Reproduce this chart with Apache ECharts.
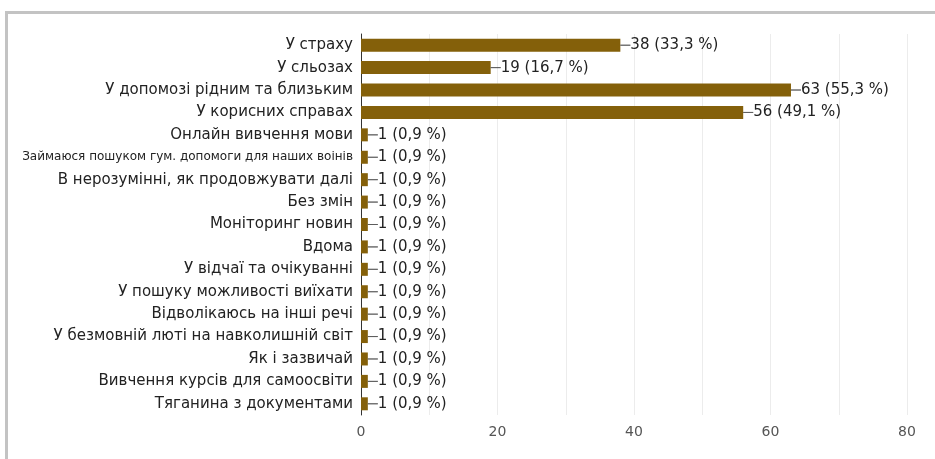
<!DOCTYPE html>
<html>
<head>
<meta charset="utf-8">
<script src="https://cdn.jsdelivr.net/npm/echarts@6/dist/echarts.min.js"></script>
<style>
  html, body { margin: 0; padding: 0; background: #fff; }
  #frame { position: absolute; left: 5px; top: 11px; right: 0; bottom: 0;
           border-left: 3px solid #c3c3c3; border-top: 3px solid #c3c3c3; }
  #chart { position: absolute; left: 0; top: 0; width: 935px; height: 459px; }
</style>
</head>
<body>
<div id="frame"></div>
<div id="chart"></div>
<script>
// Answer options, top to bottom
const categories = [
  'У страху',
  'У сльозах',
  'У допомозі рідним та близьким',
  'У корисних справах',
  'Онлайн вивчення мови',
  'Займаюся пошуком гум. допомоги для наших воінів',
  'В нерозумінні, як продовжувати далі',
  'Без змін',
  'Моніторинг новин',
  'Вдома',
  'У відчаї та очікуванні',
  'У пошуку можливості виїхати',
  'Відволікаюсь на інші речі',
  'У безмовній люті на навколишній світ',
  'Як і зазвичай',
  'Вивчення курсів для самоосвіти',
  'Тяганина з документами'
];
// Number of answers for each option
const counts = [38, 19, 63, 56, 1, 1, 1, 1, 1, 1, 1, 1, 1, 1, 1, 1, 1];
// Total respondents (percent base)
const respondents = 114;
const axisTicks = [0, 20, 40, 60, 80];

const chart = echarts.init(document.getElementById('chart'), null, { renderer: 'canvas' });

const pct = v => (Math.round(v / respondents * 1000) / 10).toFixed(1).replace('.', ',');
const FONT = 'DejaVu Sans, Verdana, sans-serif';

chart.setOption({
  animation: false,
  textStyle: { fontFamily: FONT },
  grid: { left: 361, right: 28, top: 34, bottom: 44, containLabel: false },
  xAxis: {
    type: 'value',
    min: 0, max: 80, interval: 10,
    position: 'bottom',
    axisLine: { show: false },
    axisTick: { show: false },
    splitLine: { show: true, lineStyle: { color: '#ececec', width: 1 } },
    axisLabel: {
      color: '#555', fontSize: 14, margin: 10, fontFamily: FONT,
      formatter: v => (axisTicks.indexOf(v) >= 0 ? String(v) : '')
    }
  },
  yAxis: {
    type: 'category',
    inverse: true,
    data: categories,
    axisLine: { show: true, lineStyle: { color: '#333', width: 1 } },
    axisTick: { show: false },
    axisLabel: {
      color: '#222', fontSize: 15, margin: 8, fontFamily: FONT,
      formatter: (v, i) => (i === 5 ? '{s|' + v + '}' : v),
      rich: { s: { fontSize: 12, color: '#222', fontFamily: FONT } }
    }
  },
  series: [{
    type: 'bar',
    data: counts,
    barWidth: 13,
    itemStyle: { color: '#84600a' },
    label: {
      show: true,
      position: 'right',
      distance: 0,
      color: '#222',
      fontSize: 15,
      fontFamily: FONT,
      formatter: p => '{d|}' + p.value + ' (' + pct(p.value) + ' %)',
      rich: {
        d: { width: 10, height: 0, borderColor: '#555', borderWidth: 0.8 }
      }
    }
  }]
});
</script>
</body>
</html>
